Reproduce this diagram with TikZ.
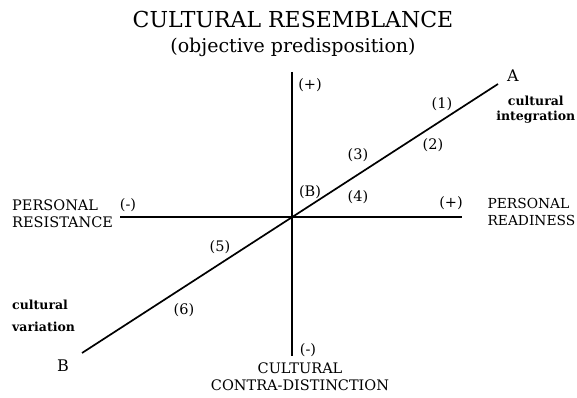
\documentclass[tikz,border=0pt]{standalone}
\usepackage{fontspec}
\setmainfont{DejaVu Serif}
\usepackage{tikz}
\usetikzlibrary{positioning}

\begin{document}
\begin{tikzpicture}[x=1pt, y=1pt,
  axis/.style={line width=1.7pt},
  lab/.style={font=\fontsize{14.5}{17}\selectfont, inner sep=0pt},
  note/.style={font=\bfseries\fontsize{12.5}{15}\selectfont, inner sep=0pt}]
  \useasboundingbox (0,0) rectangle (577,398);

  % Title
  \node[font=\fontsize{22}{24}\selectfont, inner sep=0pt] (title) at (293,379) {CULTURAL RESEMBLANCE};
  \node[font=\fontsize{19}{22}\selectfont, inner sep=0pt, below=10pt of title] (subtitle) {(objective predisposition)};

  % Axes
  \coordinate (O) at (292,181);
  \coordinate (top) at (292,326);
  \coordinate (bot) at (292,42);
  \coordinate (lft) at (120,181);
  \coordinate (rgt) at (462,181);
  \draw[axis] (top) -- (bot);
  \draw[axis] (lft) -- (rgt);

  % Diagonal B--A
  \coordinate (Bend) at (82,45);
  \coordinate (Aend) at (498,314);
  \draw[axis] (Bend) -- (Aend);

  % Axis labels
  \node[lab] (plusT) at (310,313) {(+)};
  \node[lab] (minusB) at (308,48) {(-)};
  \node[lab, align=center] (contra) at (300,21.5) {CULTURAL\\CONTRA-DISTINCTION};
  \node[lab] (minusL) at (128,193) {(-)};
  \node[lab, anchor=west, align=left] (resist) at (12,184.5) {PERSONAL\\RESISTANCE};
  \node[lab] (plusR) at (451,195) {(+)};
  \node[lab, anchor=east, align=left, font=\fontsize{13.8}{17}\selectfont] (ready) at (575.5,186.5) {PERSONAL\\READINESS};

  % Ends of the diagonal
  \node[lab, font=\fontsize{16}{17}\selectfont] (labA) at (513,322) {A};
  \node[lab, font=\fontsize{16}{17}\selectfont] (labB) at (63,32) {B};
  \node[note, anchor=east, align=center] (integ) at (575.5,288.5) {cultural\\integration};
  \node[note, align=left, anchor=west, font=\bfseries\fontsize{12.5}{22}\selectfont] (vari) at (12,82) {cultural\\variation};

  % Stages along the diagonal
  \node[lab] (s1) at (442,294) {(1)};
  \node[lab] (s2) at (433,253) {(2)};
  \node[lab] (s3) at (358,243) {(3)};
  \node[lab] (s4) at (358,201) {(4)};
  \node[lab] (sB) at (310,206) {(B)};
  \node[lab] (s5) at (220,151) {(5)};
  \node[lab] (s6) at (184,88) {(6)};
\end{tikzpicture}
\end{document}
